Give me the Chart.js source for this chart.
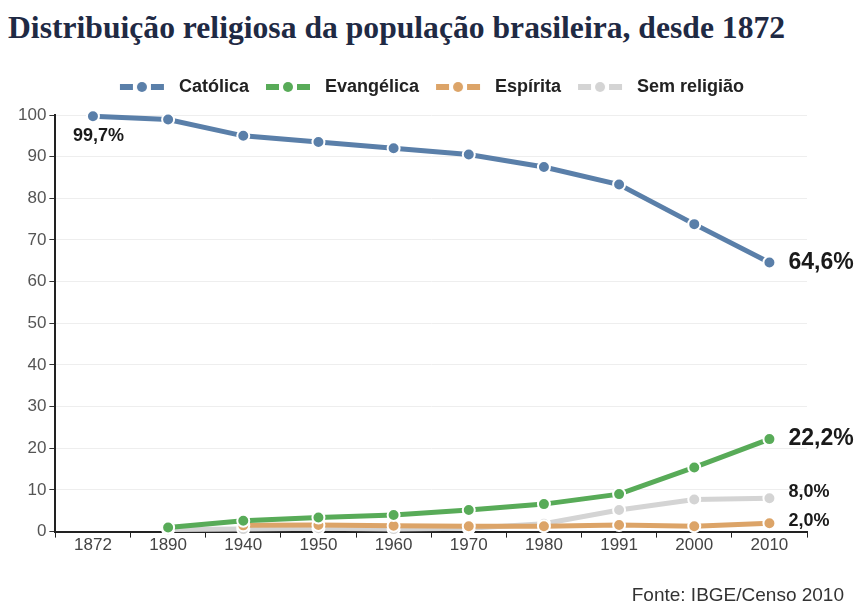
<!DOCTYPE html>
<html>
<head>
<meta charset="utf-8">
<script src="https://cdn.jsdelivr.net/npm/chart.js@4"></script>
<style>
  body { margin:0; background:#fff; width:858px; height:609px; overflow:hidden; position:relative; }
  #titulo { position:absolute; left:8px; top:11px; font-family:'Liberation Serif',serif; font-weight:bold; font-size:32px; line-height:32px; color:#1f2a44; white-space:nowrap; transform-origin:0 0; }
  #fonte { position:absolute; right:14px; top:584px; font-family:'Liberation Sans',Arial,sans-serif; font-size:19px; line-height:22px; color:#333; }
  #box { position:absolute; left:0; top:0; width:858px; height:609px; }
</style>
</head>
<body>
<div id="titulo">Distribuição religiosa da população brasileira, desde 1872</div>
<div id="box"><canvas id="graf"></canvas></div>
<div id="fonte">Fonte: IBGE/Censo 2010</div>
<script>
// ajusta largura do titulo
var t = document.getElementById('titulo');
t.style.transform = 'scaleX(' + (777 / t.scrollWidth) + ')';

var anos = ['1872','1890','1940','1950','1960','1970','1980','1991','2000','2010'];
var catolica   = [99.7, 98.9, 95.0, 93.5, 92.0, 90.5, 87.5, 83.3, 73.8, 64.6];
var evangelica = [null, 1.0, 2.6, 3.4, 4.0, 5.2, 6.6, 9.0, 15.4, 22.2];
var espirita   = [null, null, 1.5, 1.6, 1.4, 1.3, 1.3, 1.6, 1.3, 2.0];
var semReligiao = [null, 0.5, 0.6, 0.8, 0.6, 0.8, 1.9, 5.2, 7.7, 8.0];
var rotulos = [
    {serie:0, idx:0, txt:'99,7%', dx:-20, dy:20, tam:18},
    {serie:0, idx:9, txt:'64,6%', dx:19, dy:0, tam:23},
    {serie:1, idx:9, txt:'22,2%', dx:19, dy:0, tam:23},
    {serie:3, idx:9, txt:'8,0%', dx:19, dy:-6, tam:18},
    {serie:2, idx:9, txt:'2,0%', dx:19, dy:-2, tam:18}
];

var cores = ['#5a7fa9', '#58ab58', '#dca468', '#d4d4d4'];
var fonteSans = '"Liberation Sans", Arial, sans-serif';

function icone(cor){
    var c = document.createElement('canvas');
    c.width = 56; c.height = 12;
    var g = c.getContext('2d');
    g.fillStyle = cor;
    g.fillRect(6, 3, 13, 6);
    g.fillRect(37, 3, 13, 6);
    g.beginPath(); g.arc(28, 6, 5, 0, Math.PI*2); g.fill();
    return c;
}

var rotulosPlugin = {
    id: 'rotulos',
    afterDatasetsDraw: function(chart){
        var ctx = chart.ctx;
        ctx.save();
        ctx.fillStyle = '#1a1a1a';
        ctx.textBaseline = 'middle';
        rotulos.forEach(function(r){
            var p = chart.getDatasetMeta(r.serie).data[r.idx];
            ctx.font = 'bold ' + r.tam + 'px ' + fonteSans;
            ctx.fillText(r.txt, p.x + r.dx, p.y + r.dy);
        });
        ctx.restore();
    }
};

// altura fixa da legenda e deslocamento horizontal
var legendaPlugin = {
    id: 'legendaAjuste',
    beforeInit: function(chart){
        var fit = chart.legend.fit;
        chart.legend.fit = function(){
            fit.call(this);
            this.height = 48;
        };
    },
    afterLayout: function(chart){
        chart.legend.left += 18;
        chart.legend.right += 18;
    }
};

function serie(nome, dados, cor){
    return {
        label: nome,
        data: dados,
        borderColor: cor,
        backgroundColor: cor,
        borderWidth: 5,
        pointRadius: 6,
        pointBorderColor: '#fff',
        pointBorderWidth: 2,
        pointBackgroundColor: cor,
        pointStyle: 'circle',
        legendIcon: icone(cor),
        clip: false,
        tension: 0
    };
}

var ds = [
    serie('Católica', catolica, cores[0]),
    serie('Evangélica', evangelica, cores[1]),
    serie('Espírita', espirita, cores[2]),
    serie('Sem religião', semReligiao, cores[3])
];

var ctx = document.getElementById('graf').getContext('2d');
var grafico = new Chart(ctx, {
    type: 'line',
    data: { labels: anos, datasets: ds },
    options: {
        responsive: true,
        maintainAspectRatio: false,
        animation: false,
        layout: { padding: { top: 67, right: 51, bottom: 55, left: 15 } },
        plugins: {
            legend: {
                position: 'top',
                labels: {
                    usePointStyle: true,
                    pointStyleWidth: 56,
                    boxHeight: 12,
                    padding: 11,
                    color: '#222',
                    font: { family: fonteSans, size: 18, weight: 'bold' },
                    generateLabels: function(chart){
                        return chart.data.datasets.map(function(d, i){
                            return { text: d.label, pointStyle: d.legendIcon, fillStyle: d.borderColor,
                                     strokeStyle: d.borderColor, lineWidth: 0, datasetIndex: i, fontColor: '#222' };
                        });
                    }
                }
            },
            tooltip: { enabled: false }
        },
        scales: {
            x: {
                offset: true,
                grid: { offset: true, drawOnChartArea: false, drawTicks: true, tickLength: 6, color: '#222' },
                border: { color: '#222', width: 2 },
                ticks: { color: '#444', font: { family: fonteSans, size: 17 }, padding: -2 }
            },
            y: {
                min: 0, max: 100,
                ticks: { stepSize: 10, color: '#555', font: { family: fonteSans, size: 17 }, padding: 3 },
                grid: { color: '#eeeeee', tickLength: 6, tickColor: '#333' },
                border: { color: '#222', width: 2 }
            }
        }
    },
    plugins: [rotulosPlugin, legendaPlugin]
});
</script>
</body>
</html>
